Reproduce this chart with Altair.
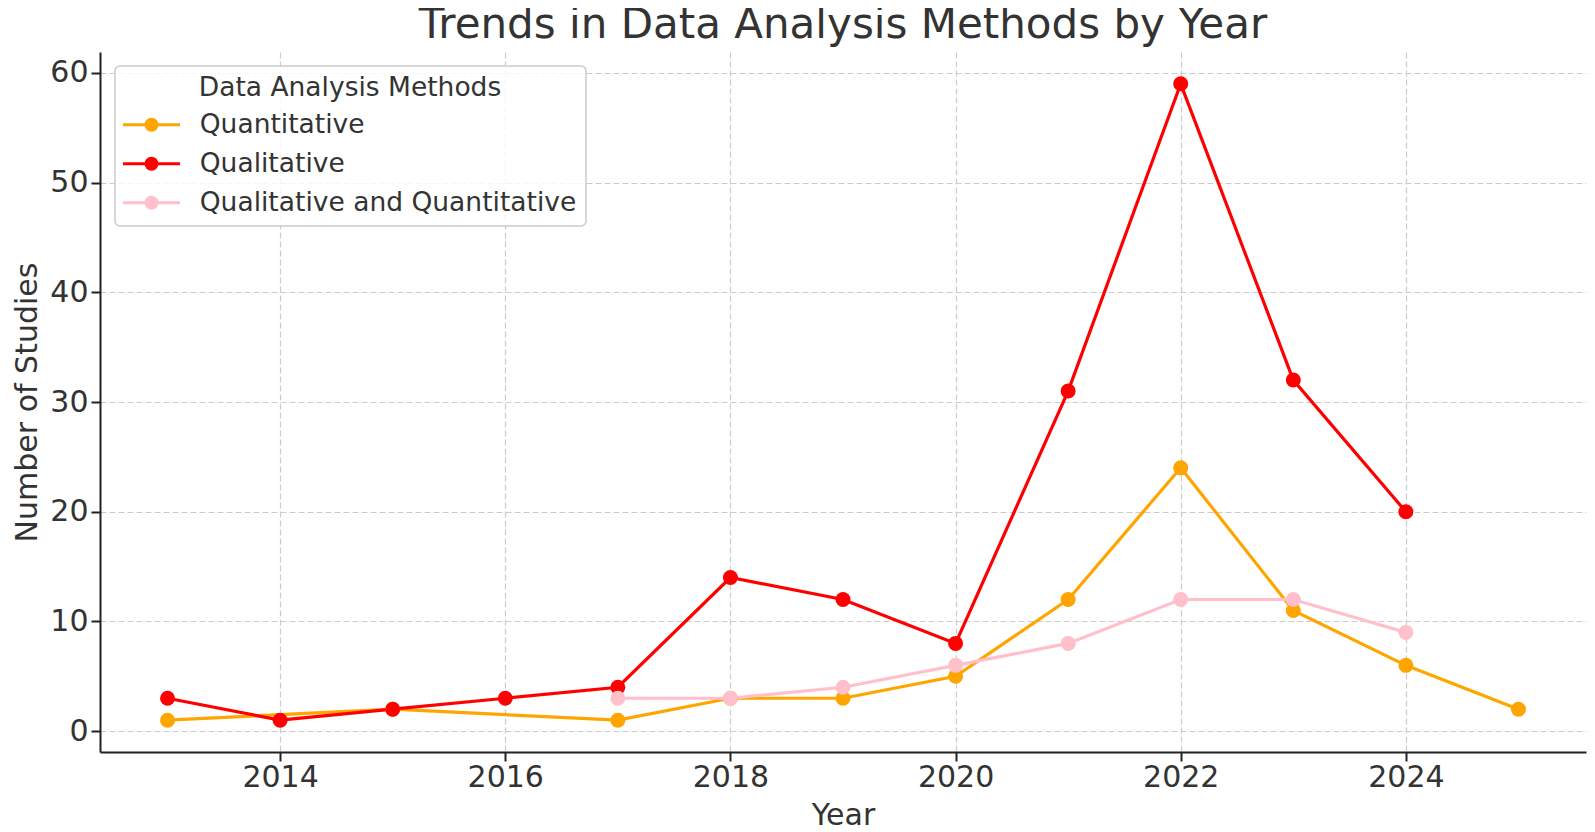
import altair as alt
import pandas as pd

years = [2013, 2014, 2015, 2016, 2017, 2018, 2019, 2020, 2021, 2022, 2023, 2024, 2025]
quantitative = [1, None, 2, None, 1, 3, 3, 5, 12, 24, 11, 6, 2]
qualitative = [3, 1, 2, 3, 4, 14, 12, 8, 31, 59, 32, 20, None]
mixed = [None, None, None, None, 3, 3, 4, 6, 8, 12, 12, 9, None]

methods = ["Quantitative", "Qualitative", "Qualitative and Quantitative"]
colors = ["#FFA500", "#FF0000", "#FFC0CB"]
x_ticks = [2014, 2016, 2018, 2020, 2022, 2024]
y_ticks = [0, 10, 20, 30, 40, 50, 60]

rows = []
for name, vals in zip(methods, [quantitative, qualitative, mixed]):
    for yr, v in zip(years, vals):
        if v is not None:
            rows.append({"Year": yr, "Studies": v, "Method": name})
df = pd.DataFrame(rows)


def ring(r):
    return f"M{-r},0A{r},{r},0,1,0,{r},0A{r},{r},0,1,0,{-r},0"


sym = "M-2.85,0H2.85" + ring(0.15) + ring(0.35) + ring(0.55)

FONT = "DejaVu Sans"

legend = alt.Legend(
    title="Data Analysis Methods",
    orient="none",
    legendX=15,
    legendY=14,
    symbolType=sym,
    symbolSize=400,
    symbolStrokeWidth=3,
    symbolOffset=14.25,
    labelOffset=35,
    labelFontSize=26.5,
    labelFont=FONT,
    labelColor="#333333",
    labelLimit=0,
    titleLimit=0,
    titleFontSize=26.5,
    titleFont=FONT,
    titleFontWeight="normal",
    titleColor="#333333",
    titleAnchor="middle",
    titlePadding=10,
    rowPadding=12,
    padding=9,
    fillColor="rgba(255,255,255,0.8)",
    strokeColor="#cccccc",
    cornerRadius=5,
)

color = alt.Color(
    "Method:N",
    scale=alt.Scale(domain=methods, range=colors),
    sort=methods,
    legend=legend,
)

x = alt.X(
    "Year:Q",
    scale=alt.Scale(domain=[2012.4, 2025.6], nice=False, zero=False),
    axis=alt.Axis(values=x_ticks, format="d", title="Year"),
)
y = alt.Y(
    "Studies:Q",
    scale=alt.Scale(domain=[-1.9, 61.9], nice=False, zero=False),
    axis=alt.Axis(values=y_ticks, title="Number of Studies"),
)

base = alt.Chart(df)
lines = base.mark_line(strokeWidth=3.2).encode(x=x, y=y, color=color, order="Year:Q")
points = base.mark_point(filled=True, size=225, opacity=1).encode(x=x, y=y, color=color)

chart = (
    alt.layer(lines, points)
    .properties(
        width=1486,
        height=700,
        autosize=alt.AutoSizeParams(type="none"),
        padding={"left": 92, "top": 44, "right": 1, "bottom": 78},
        title=alt.TitleParams(
            text="Trends in Data Analysis Methods by Year",
            fontSize=42,
            font=FONT,
            fontWeight="normal",
            color="#333333",
            anchor="middle",
            frame="group",
            offset=5,
        ),
    )
    .configure_view(stroke=None)
    .configure_axis(
        domainColor="#222222",
        domainWidth=2,
        tickColor="#222222",
        tickWidth=2,
        tickSize=9,
        labelFontSize=30,
        labelFont=FONT,
        labelColor="#333333",
        titleFontSize=30,
        titleFont=FONT,
        titleFontWeight="normal",
        titleColor="#333333",
        gridColor="#cccccc",
        gridDash=[6, 3],
        gridWidth=1.2,
    )
    .configure_axisX(labelPadding=1, titlePadding=8)
    .configure_axisY(labelPadding=3, titlePadding=7)
    .configure_legend(strokeWidth=1.5)
)

chart.save("out.html", embed_options={"renderer": "svg", "actions": False})
